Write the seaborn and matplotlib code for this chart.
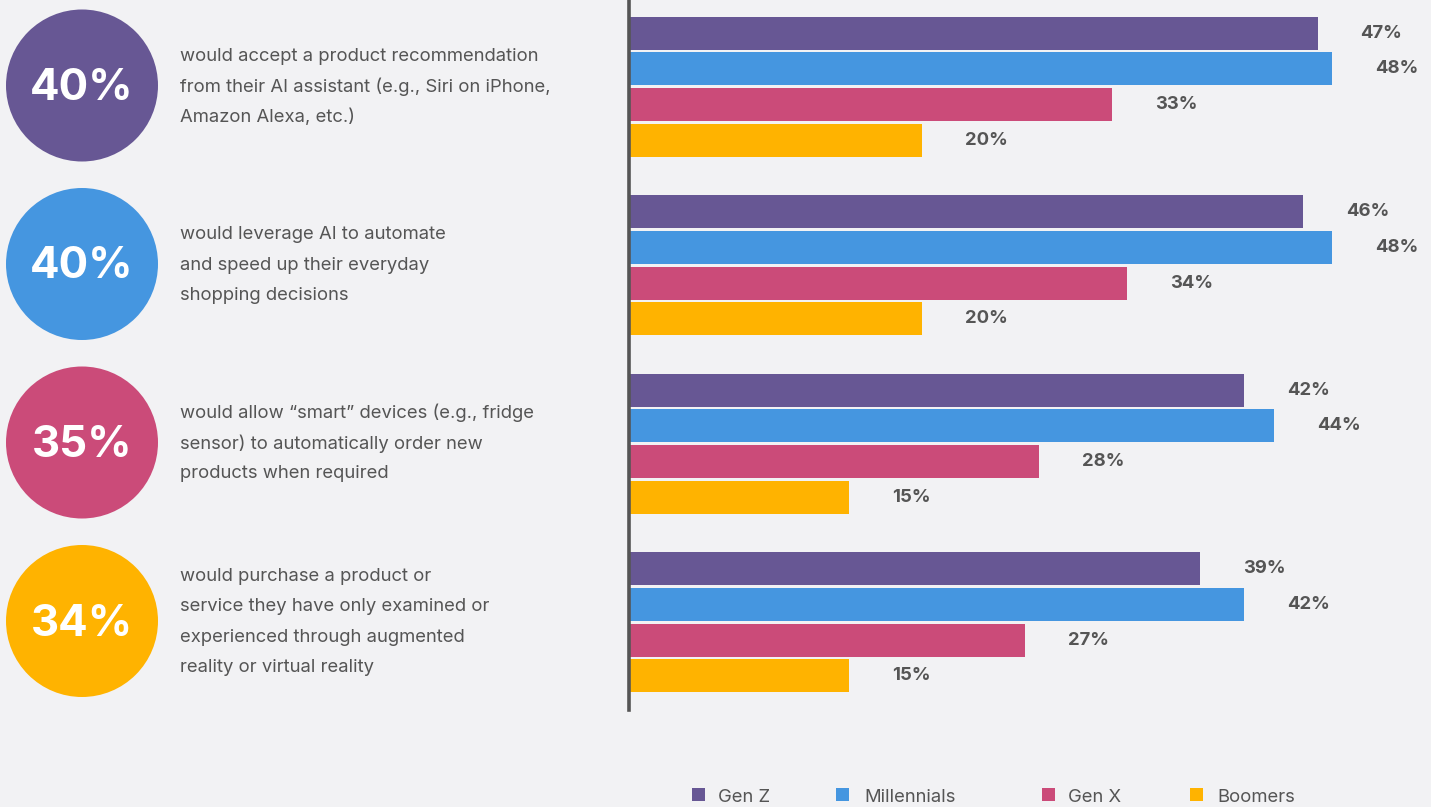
import matplotlib
matplotlib.use("Agg")
import matplotlib.pyplot as plt
from matplotlib.patches import Circle, Rectangle
import seaborn as sns
import pandas as pd

# ---- data ----
questions = ["Q1", "Q2", "Q3", "Q4"]
overall = ["40%", "40%", "35%", "34%"]
descriptions = [
    "would accept a product recommendation\nfrom their AI assistant (e.g., Siri on iPhone,\nAmazon Alexa, etc.)",
    "would leverage AI to automate\nand speed up their everyday\nshopping decisions",
    "would allow \u201csmart\u201d devices (e.g., fridge\nsensor) to automatically order new\nproducts when required",
    "would purchase a product or\nservice they have only examined or\nexperienced through augmented\nreality or virtual reality",
]
generations = ["Gen Z", "Millennials", "Gen X", "Boomers"]
gen_z = [47, 46, 42, 39]
millennials = [48, 48, 44, 42]
gen_x = [33, 34, 28, 27]
boomers = [20, 20, 15, 15]
colors = ["#675794", "#4596e0", "#cb4b79", "#ffb300"]

rows = []
for g, vals in zip(generations, [gen_z, millennials, gen_x, boomers]):
    for q, v in zip(questions, vals):
        rows.append({"question": q, "generation": g, "value": v})
df = pd.DataFrame(rows)

W, H = 1431, 807
BG = "#f2f2f4"
TXT = "#555555"
sns.set_theme(style="white")
plt.rcParams["font.family"] = ["Inter", "DejaVu Sans"]

fig = plt.figure(figsize=(W / 100, H / 100), dpi=100, facecolor=BG)

# overlay axes in pixel coordinates
bg = fig.add_axes([0, 0, 1, 1])
bg.set_xlim(0, W)
bg.set_ylim(H, 0)
bg.axis("off")
bg.set_facecolor(BG)

# bar axes
ax_left, ax_top, ax_bottom = 629, 0, 710
ax = fig.add_axes([ax_left / W, 1 - ax_bottom / H, (W - ax_left) / W, (ax_bottom - ax_top) / H])
ax.set_facecolor("none")
sns.barplot(data=df, y="question", x="value", hue="generation", hue_order=generations,
            order=questions, palette=colors, orient="h", width=0.8, gap=0.075,
            linewidth=0, saturation=1, ax=ax, legend=False, errorbar=None)
ax.set_xlim(0, (W - ax_left) / 14.65)
ax.set_ylim(3.492, -0.486)
for c in ax.containers:
    ax.bar_label(c, labels=[f"{int(v)}%" for v in c.datavalues], padding=31,
                 fontsize=13.3, fontweight="bold", color=TXT)

ax.set_xlabel("")
ax.set_ylabel("")
ax.set_xticks([])
ax.set_yticks([])
for s in ["top", "right", "bottom"]:
    ax.spines[s].set_visible(False)
ax.spines["left"].set_color("#555555")
ax.spines["left"].set_linewidth(2.6)

# circles + descriptions
centers = [85.5 + 178.5 * i for i in range(4)]
for i, (cy, pct, desc, col) in enumerate(zip(centers, overall, descriptions, colors)):
    bg.add_patch(Circle((82, cy), 76, color=col, lw=0))
    bg.text(82, cy + 3, pct, ha="center", va="center", color="white",
            fontsize=31.5, fontweight="bold")
    lines = desc.split("\n")
    n = len(lines)
    for j, ln in enumerate(lines):
        y = cy + (j - (n - 1) / 2) * 30.3 + 1
        bg.text(180, y, ln, ha="left", va="center", color=TXT, fontsize=13.3)

# legend (manual, bottom)
leg_sq_x = [692, 836, 1042, 1190]
leg_tx_x = [718, 864, 1068, 1217]
for g, col, sx, tx in zip(generations, colors, leg_sq_x, leg_tx_x):
    bg.add_patch(Rectangle((sx, 788), 13, 13, color=col, lw=0))
    bg.text(tx, 798, g, ha="left", va="center", color=TXT, fontsize=13.3)

fig.savefig("out.png", dpi=100, facecolor=BG)
